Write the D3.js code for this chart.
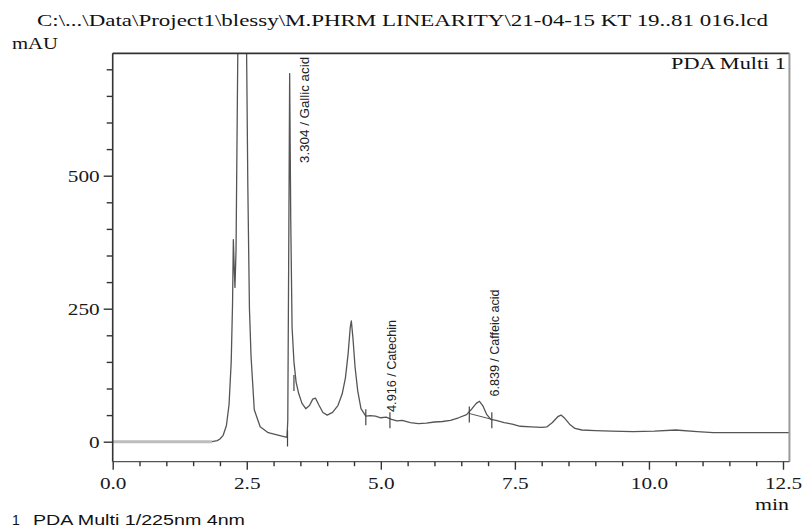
<!DOCTYPE html>
<html><head><meta charset="utf-8">
<script src="https://cdn.jsdelivr.net/npm/d3@7"></script>
<style>body{margin:0;background:#fff}</style>
</head><body><svg id="c" width="806" height="531"></svg>
<script>
// ---- data ----
const times = [0, 1.0, 1.85, 1.95, 2.0, 2.06, 2.12, 2.17, 2.21, 2.235, 2.25, 2.265, 2.28, 2.30, 2.33, 2.37, 2.42, 2.47, 2.50, 2.52, 2.55, 2.58, 2.64, 2.75, 2.9, 3.1, 3.25, 3.265, 3.285, 3.30, 3.32, 3.345, 3.38, 3.42, 3.47, 3.53, 3.6, 3.67, 3.73, 3.78, 3.84, 3.92, 4.0, 4.1, 4.2, 4.28, 4.34, 4.39, 4.43, 4.45, 4.48, 4.52, 4.57, 4.63, 4.72, 4.8, 4.9, 5.0, 5.1, 5.2, 5.3, 5.4, 5.55, 5.7, 5.85, 6.0, 6.15, 6.3, 6.45, 6.6, 6.7, 6.78, 6.84, 6.9, 6.97, 7.05, 7.15, 7.3, 7.45, 7.6, 7.8, 8.0, 8.1, 8.2, 8.3, 8.36, 8.43, 8.52, 8.62, 8.75, 9.0, 9.3, 9.7, 10.1, 10.5, 10.9, 11.2, 11.6, 12.0, 12.62];
const mAU = [0, 0, 0, 2, 5, 12, 30, 70, 150, 260, 380, 330, 290, 360, 700, 1100, 1300, 1000, 700, 480, 250, 160, 60, 28, 17, 12, 8, 40, 400, 692, 420, 215, 150, 112, 90, 72, 62, 68, 80, 82, 70, 55, 50, 55, 68, 90, 120, 165, 215, 227, 195, 140, 95, 62, 48, 49, 48, 45, 46, 42, 39, 40, 36, 34, 35, 37, 38, 40, 45, 51, 62, 72, 76, 68, 52, 42, 40, 36, 33, 29, 28, 27, 28, 36, 47, 50, 44, 33, 25, 22, 21, 20, 19, 20, 22, 19, 17, 17, 17, 17];
const baselineEnd = 1.9;

const xMajor = [0, 2.5, 5, 7.5, 10, 12.5];
const xMajorLabels = ["0.0", "2.5", "5.0", "7.5", "10.0", "12.5"];
const xMinor = [0.5,1,1.5,2,3,3.5,4,4.5,5.5,6,6.5,7,8,8.5,9,9.5,10.5,11,11.5,12];
const yMajor = [0, 250, 500];
const yMajorLabels = ["0", "250", "500"];
const yMinor = [50,100,150,200,300,350,400,450,550,600,650,700];

const peakTimes = [3.304, 4.916, 6.839];
const peakNames = ["Gallic acid", "Catechin", "Caffeic acid"];
const peakLabelBase = [524, 56, 85];
const peakLabelLen = [106, 92, 107];

const markerTimes = [3.26, 3.38, 4.72, 5.17, 6.65, 7.07];
const markerValues = [8, 112, 48, 42, 53, 42];
const integBaseTimes = [6.65, 7.07];
const integBaseValues = [53, 42];

const titleText = "C:\\...\\Data\\Project1\\blessy\\M.PHRM LINEARITY\\21-04-15 KT 19..81 016.lcd";
const channelText = "PDA Multi 1";
const footerText = "PDA Multi 1/225nm 4nm";

// ---- scales ----
const x = d3.scaleLinear().domain([0, 12.5]).range([112.7, 783]);
const y = d3.scaleLinear().domain([0, 500]).range([441.7, 175.7]);
const xL = x(0), xR = x(12.62), yT = y(730), yB = y(-37.6);

const svg = d3.select("#c");
const serif = "'Liberation Serif','Times New Roman',serif";
const sans = "'Liberation Sans',Arial,sans-serif";

function stretch(sel, f) {
  sel.each(function () {
    const w = this.getComputedTextLength();
    d3.select(this).attr("textLength", w * f).attr("lengthAdjust", "spacingAndGlyphs");
  });
}

svg.append("clipPath").attr("id", "clip").append("rect")
  .attr("x", xL).attr("y", yT).attr("width", xR - xL).attr("height", yB - yT);

// ---- signal ----
const pts = times.map((t, i) => [t, mAU[i]]);
const line = d3.line().x(d => x(d[0])).y(d => y(d[1]));
const g = svg.append("g").attr("clip-path", "url(#clip)");
g.append("path").datum(pts.filter(d => d[0] <= baselineEnd))
  .attr("d", line).attr("fill", "none").attr("stroke", "#bdbdbd").attr("stroke-width", 3);
g.append("path").datum(pts.filter(d => d[0] >= 1.85))
  .attr("d", line).attr("fill", "none").attr("stroke", "#555").attr("stroke-width", 1.3)
  .attr("stroke-linejoin", "round");
g.append("path").datum(integBaseTimes.map((t, i) => [t, integBaseValues[i]]))
  .attr("d", line).attr("fill", "none").attr("stroke", "#555").attr("stroke-width", 1);
markerTimes.forEach((t, i) => {
  g.append("line").attr("x1", x(t)).attr("x2", x(t))
    .attr("y1", y(markerValues[i]) - 7).attr("y2", y(markerValues[i]) + 9)
    .attr("stroke", "#444").attr("stroke-width", 1.2);
});

// ---- frame ----
svg.append("line").attr("x1", xL).attr("x2", xR).attr("y1", yT).attr("y2", yT).attr("stroke", "#333").attr("stroke-width", 1.6);
svg.append("line").attr("x1", xR).attr("x2", xR).attr("y1", yT).attr("y2", yB).attr("stroke", "#9a9a9a").attr("stroke-width", 2);
svg.append("line").attr("x1", xL).attr("x2", xR).attr("y1", yB).attr("y2", yB).attr("stroke", "#555").attr("stroke-width", 1.3);
svg.append("line").attr("x1", xL).attr("x2", xL).attr("y1", yT).attr("y2", yB).attr("stroke", "#333").attr("stroke-width", 1.6);

// ---- axes ----
const yAx = svg.append("g").attr("transform", `translate(${xL},0)`)
  .call(d3.axisLeft(y).tickValues(yMajor).tickSize(9).tickPadding(4).tickFormat((d, i) => yMajorLabels[i]));
const yAxMin = svg.append("g").attr("transform", `translate(${xL},0)`)
  .call(d3.axisLeft(y).tickValues(yMinor).tickSize(6).tickFormat(""));
const xAx = svg.append("g").attr("transform", `translate(0,${yB})`)
  .call(d3.axisBottom(x).tickValues(xMajor).tickSize(8).tickPadding(7).tickFormat((d, i) => xMajorLabels[i]));
const xAxMin = svg.append("g").attr("transform", `translate(0,${yB})`)
  .call(d3.axisBottom(x).tickValues(xMinor).tickSize(4.5).tickFormat(""));
[yAx, yAxMin, xAx, xAxMin].forEach(a => {
  a.select(".domain").remove();
  a.selectAll("line").attr("stroke", "#333").attr("stroke-width", 1.4);
  a.selectAll("text").attr("font-family", serif).attr("font-size", 17).attr("fill", "#1a1a1a");
});
stretch(yAx.selectAll("text"), 1.25);
stretch(xAx.selectAll("text"), 1.25);

// ---- texts ----
svg.append("text").attr("x", 37).attr("y", 26).attr("font-family", serif).attr("font-size", 17)
  .attr("fill", "#111").text(titleText).attr("textLength", 731).attr("lengthAdjust", "spacingAndGlyphs");
svg.append("text").attr("x", 12).attr("y", 48.5).attr("font-family", serif).attr("font-size", 17)
  .attr("fill", "#111").text("mAU").attr("textLength", 46).attr("lengthAdjust", "spacingAndGlyphs");
svg.append("text").attr("x", 786).attr("y", 69).attr("text-anchor", "end").attr("font-family", serif).attr("font-size", 17)
  .attr("fill", "#111").text(channelText).attr("textLength", 115).attr("lengthAdjust", "spacingAndGlyphs");
svg.append("text").attr("x", 772).attr("y", 510).attr("text-anchor", "middle").attr("font-family", serif).attr("font-size", 17)
  .attr("fill", "#111").text("min").attr("textLength", 34).attr("lengthAdjust", "spacingAndGlyphs");
svg.append("text").attr("x", 12).attr("y", 525).attr("font-family", sans).attr("font-size", 14)
  .attr("fill", "#111").text("1");
svg.append("text").attr("x", 33).attr("y", 525).attr("font-family", sans).attr("font-size", 14)
  .attr("fill", "#111").text(footerText).attr("textLength", 212).attr("lengthAdjust", "spacingAndGlyphs");

// ---- peak labels ----
peakTimes.forEach((t, i) => {
  const px = x(t) + 15, py = y(peakLabelBase[i]);
  svg.append("text").attr("transform", `translate(${px},${py}) rotate(-90)`)
    .attr("dy", "0.35em").attr("font-family", sans).attr("font-size", 12).attr("fill", "#222")
    .text(`${t.toFixed(3)} / ${peakNames[i]}`)
    .attr("textLength", peakLabelLen[i]).attr("lengthAdjust", "spacingAndGlyphs");
});
</script></body></html>
